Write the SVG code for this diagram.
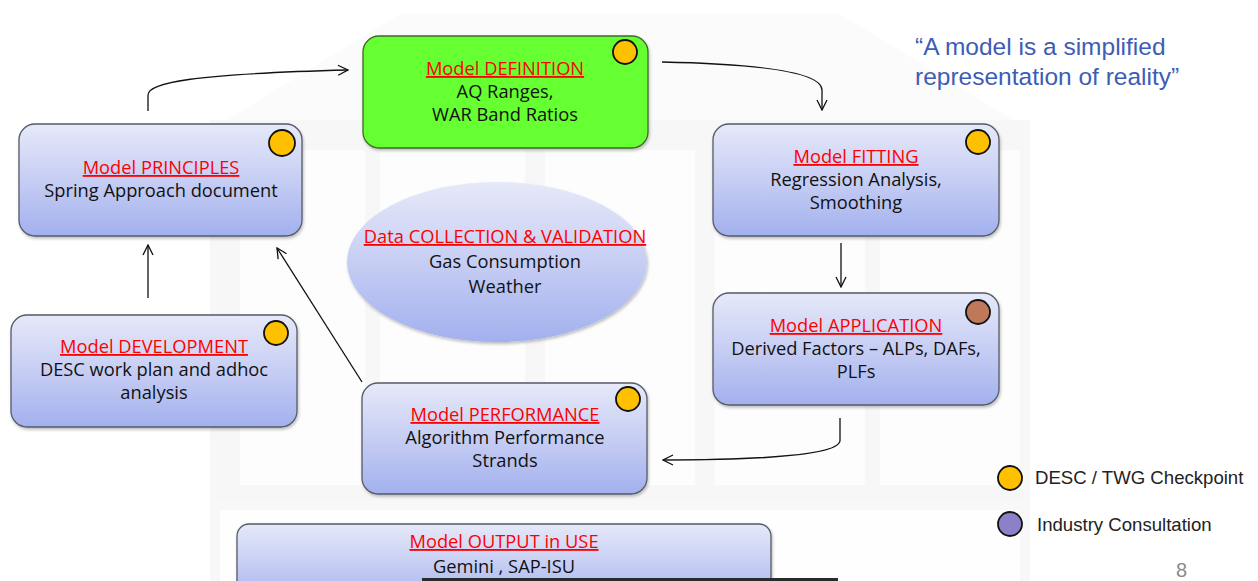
<svg xmlns="http://www.w3.org/2000/svg" width="1258" height="581" viewBox="0 0 1258 581">
<defs>
<linearGradient id="blue" x1="0" y1="0" x2="0" y2="1">
<stop offset="0" stop-color="#e6e9f9"/>
<stop offset="0.55" stop-color="#c3cbf3"/>
<stop offset="1" stop-color="#a2b0ee"/>
</linearGradient>
<filter id="sh" x="-10%" y="-10%" width="120%" height="130%">
<feDropShadow dx="1" dy="2" stdDeviation="1.5" flood-color="#000" flood-opacity="0.25"/>
</filter>
<marker id="arr" viewBox="0 0 12 12" refX="11" refY="6" markerWidth="12" markerHeight="12" markerUnits="userSpaceOnUse" orient="auto">
<path d="M1,1 L11,6 L1,11" fill="none" stroke="#111" stroke-width="1.3"/>
</marker>
</defs>
<style>
.box{fill:url(#blue);stroke:#555b66;stroke-width:1.3;filter:url(#sh)}
.green{fill:#66ff33;stroke:#3d6b2a;stroke-width:1.3;filter:url(#sh)}
.t{font-family:"Open Sans","Liberation Sans",Arial,sans-serif;font-size:18.3px;fill:#ff0000;text-anchor:middle;text-decoration:underline}
.b{font-family:"Open Sans","Liberation Sans",Arial,sans-serif;font-size:18.3px;fill:#111;text-anchor:middle}
.ck{fill:#ffc000;stroke:#111;stroke-width:1.8}
.conn{fill:none;stroke:#111;stroke-width:1.3;marker-end:url(#arr)}
.q{font-family:"Liberation Sans",Arial,sans-serif;font-size:24.5px;fill:#3d5db5}
.lg{font-family:"Liberation Sans",Arial,sans-serif;font-size:18.6px;fill:#222}
.bgp{fill:#f7f7f7}
</style>
<rect width="1258" height="581" fill="#ffffff"/>
<g id="background">
<polygon points="210,130 400,14 840,14 1030,130" fill="#fbfbfb"/>
<rect x="210" y="120" width="820" height="380" class="bgp"/>
<rect x="240" y="150" width="125" height="335" fill="#fdfdfd"/>
<rect x="380" y="150" width="145" height="335" fill="#fdfdfd"/>
<rect x="545" y="150" width="150" height="335" fill="#fdfdfd"/>
<rect x="715" y="150" width="150" height="335" fill="#fdfdfd"/>
<rect x="880" y="150" width="140" height="335" fill="#fdfdfd"/>
<rect x="210" y="500" width="820" height="81" fill="#f8f8f8"/>
<rect x="220" y="510" width="800" height="71" fill="#fefefe"/>
</g>
<g id="connectors">
<path class="conn" d="M148,111 V95 C148,83 190,74 348,70"/>
<path class="conn" d="M662,62 C760,64 822,72 822,90 V110"/>
<path class="conn" d="M841,243 V287"/>
<path class="conn" d="M840,418 V441 C838,455 760,460 663,460"/>
<path class="conn" d="M362,382 L277,248"/>
<path class="conn" d="M148,298 V245"/>
</g>
<g id="principles">
<rect class="box" x="19" y="124" width="283" height="112" rx="16"/>
<circle class="ck" cx="282" cy="143" r="13"/>
<text class="t" x="161" y="174">Model PRINCIPLES</text>
<text class="b" x="161" y="197">Spring Approach document</text>
</g>
<g id="definition">
<rect class="green" x="363" y="36" width="285" height="112" rx="16"/>
<circle class="ck" cx="625" cy="52" r="12"/>
<text class="t" x="505" y="75">Model DEFINITION</text>
<text class="b" x="505" y="98">AQ Ranges,</text>
<text class="b" x="505" y="121">WAR Band Ratios</text>
</g>
<g id="fitting">
<rect class="box" x="713" y="124" width="286" height="112" rx="16"/>
<circle class="ck" cx="978" cy="142" r="12"/>
<text class="t" x="856" y="163">Model FITTING</text>
<text class="b" x="856" y="186">Regression Analysis,</text>
<text class="b" x="856" y="209">Smoothing</text>
</g>
<g id="application">
<rect class="box" x="713" y="293" width="286" height="112" rx="16"/>
<circle cx="978" cy="312" r="12" fill="#c0785a" stroke="#111" stroke-width="1.8"/>
<text class="t" x="856" y="332">Model APPLICATION</text>
<text class="b" x="856" y="355">Derived Factors – ALPs, DAFs,</text>
<text class="b" x="856" y="378">PLFs</text>
</g>
<g id="performance">
<rect class="box" x="362" y="383" width="285" height="111" rx="16"/>
<circle class="ck" cx="628" cy="399" r="12"/>
<text class="t" x="505" y="421">Model PERFORMANCE</text>
<text class="b" x="505" y="444">Algorithm Performance</text>
<text class="b" x="505" y="467">Strands</text>
</g>
<g id="development">
<rect class="box" x="11" y="315" width="286" height="112" rx="16"/>
<circle class="ck" cx="276" cy="333" r="12"/>
<text class="t" x="154" y="353">Model DEVELOPMENT</text>
<text class="b" x="154" y="376">DESC work plan and adhoc</text>
<text class="b" x="154" y="399">analysis</text>
</g>
<g id="collection">
<ellipse cx="497" cy="262" rx="150" ry="80" fill="url(#blue)" filter="url(#sh)"/>
<text class="t" x="505" y="243">Data COLLECTION &amp; VALIDATION</text>
<text class="b" x="505" y="268">Gas Consumption</text>
<text class="b" x="505" y="293">Weather</text>
</g>
<g id="output">
<rect class="box" x="237" y="524" width="534" height="80" rx="12"/>
<text class="t" x="504" y="548">Model OUTPUT in USE</text>
<text class="b" x="504" y="573">Gemini , SAP-ISU</text>
<rect x="422" y="578" width="416" height="5" fill="#2a2a2a"/>
</g>
<g id="quote">
<text class="q" x="915" y="55">“A model is a simplified</text>
<text class="q" x="915" y="85">representation of reality”</text>
</g>
<g id="legend">
<circle class="ck" cx="1010" cy="478" r="12"/>
<text class="lg" x="1035" y="484">DESC / TWG Checkpoint</text>
<circle cx="1010" cy="524" r="12" fill="#8c80c8" stroke="#111" stroke-width="1.8"/>
<text class="lg" x="1037" y="531">Industry Consultation</text>
<text x="1176" y="577" font-family="Liberation Sans, Arial, sans-serif" font-size="20" fill="#8a8a8a">8</text>
</g>
</svg>
